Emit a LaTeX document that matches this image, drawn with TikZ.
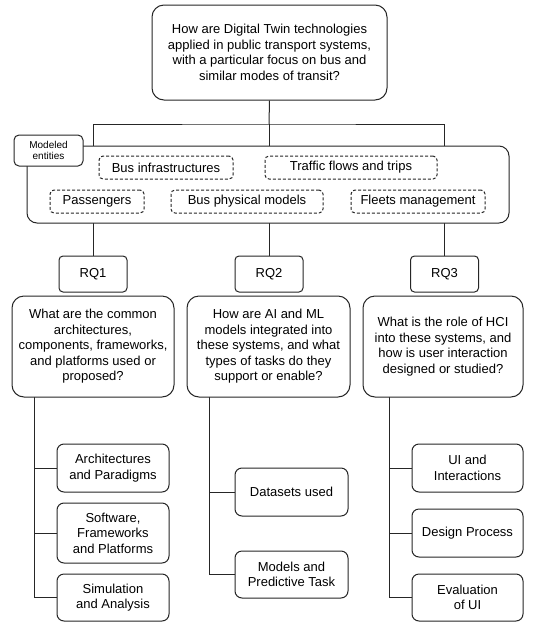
\documentclass[tikz,border=0pt]{standalone}
\usepackage{fontspec}
\setmainfont{Liberation Sans}
\pgfdeclarelayer{bg}
\pgfsetlayers{bg,main}
\begin{document}
\begin{tikzpicture}[x=1pt,y=-1pt,
  box/.style={draw=black!85,line width=1pt,fill=white,align=center,inner sep=0pt,
    font=\fontsize{13}{15.5}\selectfont},
  bigbox/.style={box,rounded corners=12pt},
  rqbox/.style={box,rounded corners=4pt,minimum width=68pt,minimum height=36pt},
  leafbox/.style={box,rounded corners=7pt},
  dashbox/.style={box,rounded corners=4pt,dash pattern=on 3pt off 2pt,minimum height=23pt},
  conn/.style={draw=black!85,line width=1pt}]
\useasboundingbox (0,0) rectangle (552,622);

% top question
\node[bigbox,minimum width=235pt,minimum height=95pt] (top) at (269.5,52.5)
  {How are Digital Twin technologies\\applied in public transport systems,\\with a particular focus on bus and\\similar modes of transit?};

% modeled entities container
\node[box,rounded corners=10pt,minimum width=482pt,minimum height=77pt] (ent) at (268,184.5) {};
\node[box,rounded corners=5pt,minimum width=69pt,minimum height=31pt,font=\fontsize{10}{11.5}\selectfont] (lab) at (48.5,150.5) {Modeled\\entities};
\node[dashbox,minimum width=134pt] (infra) at (166,167.5) {Bus infrastructures};
\node[dashbox,minimum width=172pt] (traffic) at (351,167.5) {Traffic flows and trips};
\node[dashbox,minimum width=94pt] (pass) at (97,201.5) {Passengers};
\node[dashbox,minimum width=152pt] (phys) at (247,201.5) {Bus physical models};
\node[dashbox,minimum width=134pt] (fleet) at (418,201.5) {Fleets management};

% RQ labels
\node[rqbox] (rq1) at (93,274) {RQ1};
\node[rqbox] (rq2) at (269,274) {RQ2};
\node[rqbox] (rq3) at (444.5,274) {RQ3};

% RQ questions
\node[bigbox,minimum width=162pt,minimum height=101pt] (q1) at (93,346.5)
  {What are the common\\architectures,\\components, frameworks,\\and platforms used or\\proposed?};
\node[bigbox,minimum width=163pt,minimum height=101pt] (q2) at (268.5,346.5)
  {How are AI and ML\\models integrated into\\these systems, and what\\types of tasks do they\\support or enable?};
\node[bigbox,minimum width=160pt,minimum height=101pt] (q3) at (443,346.5)
  {What is the role of HCI\\into these systems, and\\how is user interaction\\designed or studied?};

% leaves RQ1
\node[leafbox,minimum width=112pt,minimum height=48pt] (a1) at (113,468) {Architectures\\and Paradigms};
\node[leafbox,minimum width=112pt,minimum height=60pt] (a2) at (113,533) {Software,\\Frameworks\\and Platforms};
\node[leafbox,minimum width=112pt,minimum height=47pt] (a3) at (113,597.5) {Simulation\\and Analysis};
% leaves RQ2
\node[leafbox,minimum width=113pt,minimum height=48pt] (b1) at (291.5,492) {Datasets used};
\node[leafbox,minimum width=113pt,minimum height=47pt] (b2) at (291.5,574.5) {Models and\\Predictive Task};
% leaves RQ3
\node[leafbox,minimum width=111pt,minimum height=48pt] (c1) at (467.5,468) {UI and\\Interactions};
\node[leafbox,minimum width=111pt,minimum height=48pt] (c2) at (467.5,533) {Design Process};
\node[leafbox,minimum width=111pt,minimum height=47pt] (c3) at (467.5,597.5) {Evaluation\\of UI};

% connectors
\coordinate (hb) at (269,124);
\coordinate (t1) at (34,397);
\coordinate (t2) at (209,397);
\coordinate (t3) at (389,397);
\begin{pgfonlayer}{bg}
  \draw[conn] (top.south) -- (hb);
  \draw[conn] (rq1.north) |- (hb) -| (rq3.north);
  \draw[conn] (hb) -- (rq2.north);
  \draw[conn] (t1) |- (a3.west);
  \draw[conn] (t1) |- (a1.west);
  \draw[conn] (t1) |- (a2.west);
  \draw[conn] (t2) |- (b2.west);
  \draw[conn] (t2) |- (b1.west);
  \draw[conn] (t3) |- (c3.west);
  \draw[conn] (t3) |- (c1.west);
  \draw[conn] (t3) |- (c2.west);
\end{pgfonlayer}
\end{tikzpicture}
\end{document}
